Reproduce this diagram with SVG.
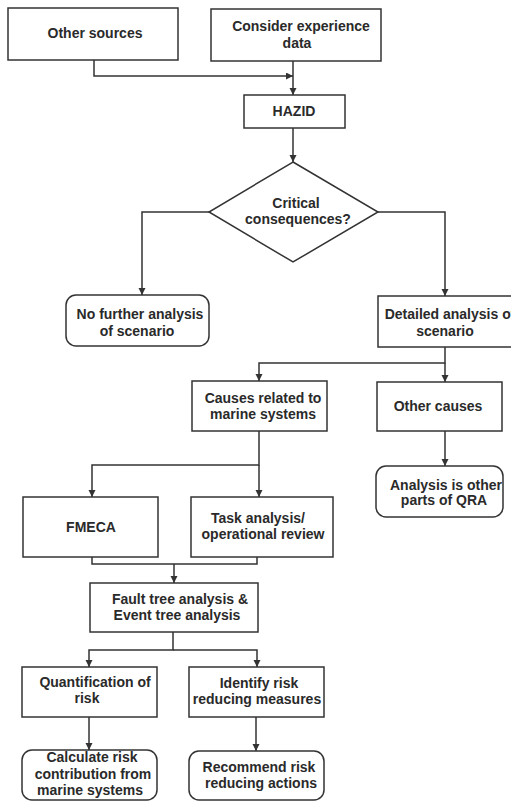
<svg xmlns="http://www.w3.org/2000/svg" width="511" height="802" viewBox="0 0 511 802">
<style>
.box{fill:#fff;stroke:#333;stroke-width:1.5}
.lbl{font-family:"Liberation Sans",Arial,sans-serif;font-weight:bold;font-size:14px;fill:#2a2a2a;text-anchor:middle}
.con{fill:none;stroke:#333;stroke-width:1.5}
</style>
<defs>
<marker id="ah" markerUnits="userSpaceOnUse" markerWidth="8" markerHeight="8" refX="7" refY="3.5" orient="auto">
<path d="M0,0 L7,3.5 L0,7 z" fill="#333"/>
</marker>
</defs>
<rect width="511" height="802" fill="#fff"/>
<g id="connectors">
<path class="con" d="M94,60 V76 H293" marker-end="url(#ah)"/>
<path class="con" d="M293,61 V95" marker-end="url(#ah)"/>
<path class="con" d="M293,128 V162" marker-end="url(#ah)"/>
<path class="con" d="M209,212 H142 V295" marker-end="url(#ah)"/>
<path class="con" d="M378,212 H445 V296" marker-end="url(#ah)"/>
<path class="con" d="M445,347 V363 H259 V381" marker-end="url(#ah)"/>
<path class="con" d="M445,363 V382" marker-end="url(#ah)"/>
<path class="con" d="M259,431 V465 H92 V497" marker-end="url(#ah)"/>
<path class="con" d="M259,465 V497" marker-end="url(#ah)"/>
<path class="con" d="M445,431 V466" marker-end="url(#ah)"/>
<path class="con" d="M92,557 V564 H257 V557"/>
<path class="con" d="M174,564 V583" marker-end="url(#ah)"/>
<path class="con" d="M173,632 V650 H89 V667" marker-end="url(#ah)"/>
<path class="con" d="M173,650 H257 V667" marker-end="url(#ah)"/>
<path class="con" d="M89,717 V750" marker-end="url(#ah)"/>
<path class="con" d="M256,717 V751" marker-end="url(#ah)"/>
</g>
<g id="other-sources">
<rect class="box" x="8" y="8" width="170" height="52"/>
<text class="lbl" x="95" y="38">Other sources</text>
</g>
<g id="consider-experience">
<rect class="box" x="211" y="9" width="170" height="52"/>
<text class="lbl" x="301" y="31">Consider experience</text>
<text class="lbl" x="297" y="48">data</text>
</g>
<g id="hazid">
<rect class="box" x="244" y="95" width="101" height="33"/>
<text class="lbl" x="294" y="116">HAZID</text>
</g>
<g id="critical">
<polygon class="box" points="293,162 378,212 293,262 209,212"/>
<text class="lbl" x="296" y="208">Critical</text>
<text class="lbl" x="298" y="224">consequences?</text>
</g>
<g id="no-further">
<rect class="box" x="66" y="295" width="143" height="51" rx="10"/>
<text class="lbl" x="140" y="319">No further analysis</text>
<text class="lbl" x="137" y="336">of scenario</text>
</g>
<g id="detailed">
<rect class="box" x="378" y="296" width="136" height="51"/>
<text class="lbl" x="450" y="319">Detailed analysis of</text>
<text class="lbl" x="445" y="336">scenario</text>
</g>
<g id="causes-marine">
<rect class="box" x="192" y="381" width="135" height="50"/>
<text class="lbl" x="263" y="403">Causes related to</text>
<text class="lbl" x="263" y="419">marine systems</text>
</g>
<g id="other-causes">
<rect class="box" x="377" y="382" width="125" height="49"/>
<text class="lbl" x="438" y="411">Other causes</text>
</g>
<g id="fmeca">
<rect class="box" x="23" y="497" width="135" height="60"/>
<text class="lbl" x="91" y="532">FMECA</text>
</g>
<g id="task-analysis">
<rect class="box" x="191" y="497" width="142" height="60"/>
<text class="lbl" x="258" y="523">Task analysis/</text>
<text class="lbl" x="263" y="539">operational review</text>
</g>
<g id="analysis-qra">
<rect class="box" x="376" y="466" width="127" height="51" rx="10"/>
<text class="lbl" x="446" y="490">Analysis is other</text>
<text class="lbl" x="444" y="505">parts of QRA</text>
</g>
<g id="fault-tree">
<rect class="box" x="90" y="583" width="168" height="49"/>
<text class="lbl" x="180" y="604">Fault tree analysis &amp;</text>
<text class="lbl" x="177" y="620">Event tree analysis</text>
</g>
<g id="quantification">
<rect class="box" x="22" y="667" width="135" height="50"/>
<text class="lbl" x="95" y="687">Quantification of</text>
<text class="lbl" x="87" y="703">risk</text>
</g>
<g id="identify">
<rect class="box" x="189" y="667" width="135" height="50"/>
<text class="lbl" x="259" y="688">Identify risk</text>
<text class="lbl" x="257" y="704">reducing measures</text>
</g>
<g id="calculate">
<rect class="box" x="22" y="750" width="135" height="50" rx="10"/>
<text class="lbl" x="92" y="762">Calculate risk</text>
<text class="lbl" x="93" y="779">contribution from</text>
<text class="lbl" x="90" y="795">marine systems</text>
</g>
<g id="recommend">
<rect class="box" x="189" y="751" width="135" height="49" rx="10"/>
<text class="lbl" x="259" y="772">Recommend risk</text>
<text class="lbl" x="261" y="788">reducing actions</text>
</g>
</svg>
